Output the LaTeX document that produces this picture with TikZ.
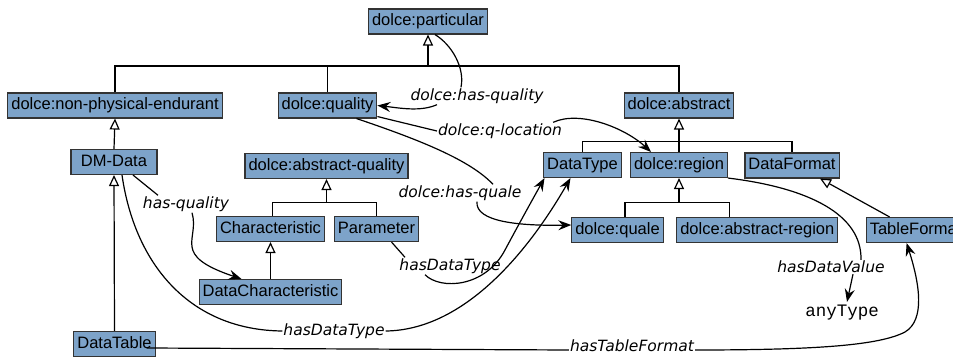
\documentclass[tikz,border=0pt]{standalone}
\usepackage{fontspec}
\setmainfont{Liberation Sans}
\setmonofont{Liberation Mono}
\newfontfamily\relfont{DejaVu Sans}
\usetikzlibrary{arrows.meta}
\definecolor{clsblue}{RGB}{125,163,201}

\tikzset{
  cls/.style={draw=black!80, fill=clsblue, line width=1.1pt, minimum height=25pt,
    inner xsep=3.5pt, inner ysep=0pt, text height=12pt, text depth=3.5pt,
    font=\fontsize{16.5}{18}\selectfont},
  rel/.style={font=\relfont\itshape\fontsize{15.5}{17}\selectfont, inner sep=1pt},
  isa/.style={line width=1.2pt, -{Triangle[length=11pt,width=10pt,fill=white]}},
  link/.style={line width=1.2pt, -{Stealth[length=13pt,width=10pt,inset=4.5pt]}},
  seg/.style={line width=1.2pt}
}

\begin{document}
\begin{tikzpicture}[x=1pt,y=-1pt]
      \useasboundingbox (0,0) rectangle (953,358);
      % classes
      \node[cls] (part) at (428,21.5) {dolce:particular};
      \node[cls] (npe) at (115,105.5) {dolce:non-physical-endurant};
      \node[cls] (qual) at (327.5,105.5) {dolce:quality};
      \node[cls] (abs) at (679,105.5) {dolce:abstract};
      \node[cls, minimum width=86pt] (dmdata) at (114,162) {DM-Data};
      \node[cls] (aq) at (326.5,166) {dolce:abstract-quality};
      \node[cls] (dtype) at (582.5,165) {DataType};
      \node[cls] (region) at (679,165) {dolce:region};
      \node[cls] (dformat) at (792,165.5) {DataFormat};
      \node[cls] (charac) at (270.5,229) {Characteristic};
      \node[cls] (param) at (376.5,229) {Parameter};
      \node[cls] (quale) at (617.5,230) {dolce:quale};
      \node[cls] (aregion) at (757.3,230) {dolce:abstract-region};
      \node[cls, anchor=west] (tformat) at (865.7,230) {TableFormat};
      \node[cls] (dchar) at (270.5,292) {DataCharacteristic};
      \node[cls] (dtable) at (114.5,344) {DataTable};
      \node[font=\ttfamily\fontsize{17.5}{19}\selectfont] (anytype) at (842,313) {anyType};

      % relation labels
      \node[rel] (lhq) at (477,96) {dolce:has-quality};
      \node[rel] (lql) at (500,131) {dolce:q-location};
      \node[rel] (lhqe) at (460,193) {dolce:has-quale};
      \node[rel] (lhdt1) at (450,266) {hasDataType};
      \node[rel] (lhdt2) at (334,331) {hasDataType};
      \node[rel] (lhasq) at (186,204) {has-quality};
      \node[rel] (lhdv) at (831,267) {hasDataValue};
      \node[rel] (lhtf) at (632,346) {hasTableFormat};

      % subclass trees
      \coordinate (topj) at (428,66);
      \draw[seg] (npe.north) |- (topj) -| (abs.north);
      \draw[seg] (qual.north) -- (qual.north |- topj);
      \draw[isa] (topj) -- (part.south);

      \coordinate (absj) at (679,141.7);
      \draw[seg] (dtype.north) |- (absj) -| (dformat.north);
      \draw[isa] (region.north) -- (abs.south);

      \coordinate (aqj) at (326.5,202.3);
      \draw[seg] ([xshift=2pt]charac.north) |- (aqj) -| (param.north);
      \draw[isa] (aqj) -- (aq.south);

      \coordinate (regj) at (679,202.7);
      \draw[seg] ([xshift=7.5pt]quale.north) |- (regj) -| ([xshift=-28pt]aregion.north);
      \draw[isa] (regj) -- (region.south);

      \draw[isa] (dmdata.north) -- (npe.south);
      \draw[isa] (dtable.north) -- (dmdata.south);
      \draw[isa] (dchar.north) -- (charac.south);
      \draw[isa] ([xshift=-26pt]tformat.north) -- ([xshift=28pt]dformat.south);

      % relations
      \draw[seg] ([xshift=7pt]part.south) .. controls (452,45) and (465,68) .. ([xshift=-16pt]lhq.north);
      \draw[link] ([xshift=-40pt]lhq.south) .. controls (420,112) and (400,108) .. (qual.east);

      \draw[seg] ([yshift=2pt]qual.south east) -- (lql.west);
      \draw[link] ([xshift=-10pt]lql.north east) .. controls (580,110) and (625,128) .. ([xshift=-28pt]region.north);

      \draw[seg] ([xshift=29pt]qual.south) .. controls (420,140) and (470,160) .. ([xshift=33pt]lhqe.north);
      \draw[link] ([xshift=17pt]lhqe.south) .. controls (475,222) and (520,226) .. ([yshift=5pt]quale.west);

      \draw[seg] ([xshift=15pt]param.south) -- ([xshift=-45pt]lhdt1.north);
      \draw[link] ([xshift=-25pt]lhdt1.south) .. controls (440,290) and (485,288) .. (505,250)
        .. controls (520,222) and (535,195) .. ([xshift=-38pt]dtype.south);

      \draw[seg] ([xshift=8pt]dmdata.south) .. controls (135,265) and (190,330) .. (lhdt2.west);
      \draw[link] (lhdt2.east) .. controls (470,330) and (535,240) .. ([xshift=-12pt]dtype.south);

      \draw[seg] ([xshift=19pt]dmdata.south) -- ([xshift=-28pt]lhasq.north);
      \draw[link] ([xshift=6pt]lhasq.south) .. controls (200,240) and (170,255) .. ([xshift=-29pt]dchar.north);

      \draw[seg] (region.south east) .. controls (810,188) and (862,215) .. ([xshift=30pt]lhdv.north);
      \draw[link] ([xshift=22pt]lhdv.south) -- ([xshift=5pt]anytype.north);

      \draw[seg] ([xshift=-9pt,yshift=-4pt]dtable.east) -- ([yshift=-4pt]lhtf.west);
      \draw[link] ([yshift=-4pt]lhtf.east) .. controls (820,350) and (880,345) .. (905,332)
        .. controls (925,320) and (920,285) .. ([xshift=-9pt]tformat.south);
\end{tikzpicture}
\end{document}
